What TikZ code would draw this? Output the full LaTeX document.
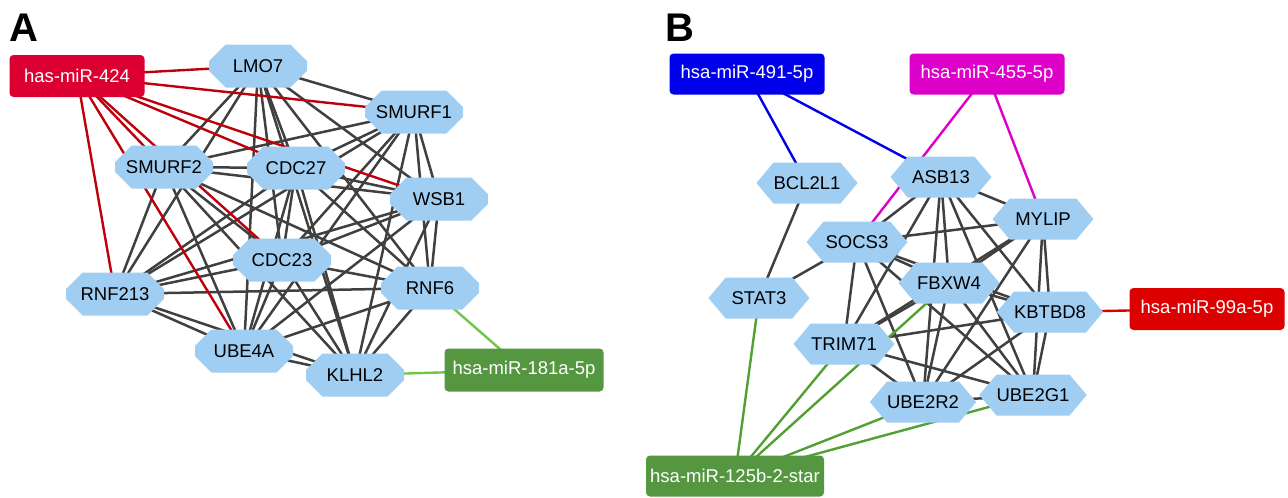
\documentclass[tikz,border=0pt]{standalone}
\usepackage{fontspec}
\setmainfont{Liberation Sans}
\usetikzlibrary{shapes.misc,shapes.symbols,backgrounds}
\definecolor{nodeblue}{RGB}{160,206,243}
\definecolor{edgegray}{RGB}{64,64,64}
\definecolor{boxcrimson}{RGB}{220,0,50}
\definecolor{edgecrimson}{RGB}{190,0,10}
\definecolor{boxgreen}{RGB}{85,150,65}
\definecolor{edgelightgreen}{RGB}{110,200,70}
\definecolor{edgegreen}{RGB}{80,160,50}
\definecolor{boxblue}{RGB}{0,0,235}
\definecolor{boxmagenta}{RGB}{220,0,200}
\definecolor{boxred}{RGB}{220,0,0}
\begin{document}
\begin{tikzpicture}[x=1pt,y=-1pt,
  txt/.style={font=\fontsize{18.5}{20}\selectfont},
  oct/.style={txt, chamfered rectangle, chamfered rectangle xsep=12pt, chamfered rectangle ysep=10pt, fill=nodeblue, minimum width=98pt, minimum height=43pt, inner sep=0pt},
  hex/.style={txt, signal, signal to=east and west, signal pointer angle=100, fill=nodeblue, minimum width=101pt, minimum height=41pt, inner sep=0pt},
  mir/.style={txt, rounded corners=4pt, text=white, minimum height=42pt, inner sep=0pt},
  panel/.style={font=\fontsize{40}{40}\selectfont\bfseries},
  e/.style={line width=2.5pt, draw=edgegray},
  ce/.style={line width=2.4pt}
]
\useasboundingbox (0,0) rectangle (1288,498);
% ---------- Panel A ----------
\node[panel] (labA) at (24,28) {A};
\node[mir, fill=boxcrimson, minimum width=135pt] (m424) at (77,76) {has-miR-424};
\node[mir, fill=boxgreen, minimum width=159pt, minimum height=43pt] (m181) at (524,370) {hsa-miR-181a-5p};
\node[oct] (LMO7) at (258,66) {LMO7};
\node[oct] (SMURF1) at (414,112) {SMURF1};
\node[oct] (SMURF2) at (164,167) {SMURF2};
\node[oct] (CDC27) at (296,168) {CDC27};
\node[oct] (WSB1) at (439,199) {WSB1};
\node[oct] (CDC23) at (282,260) {CDC23};
\node[oct] (RNF213) at (115,294) {RNF213};
\node[oct] (RNF6) at (430,288) {RNF6};
\node[oct] (UBE4A) at (244,351) {UBE4A};
\node[oct] (KLHL2) at (355,375) {KLHL2};
% ---------- Panel B ----------
\node[panel] (labB) at (680,28) {B};
\node[mir, fill=boxblue, minimum width=155pt, minimum height=41pt] (m491) at (747,74) {hsa-miR-491-5p};
\node[mir, fill=boxmagenta, minimum width=155pt, minimum height=41pt] (m455) at (987,74) {hsa-miR-455-5p};
\node[mir, fill=boxred, minimum width=155pt] (m99) at (1207,309) {hsa-miR-99a-5p};
\node[mir, fill=boxgreen, minimum width=178pt, minimum height=41pt] (m125) at (735,476) {hsa-miR-125b-2-star};
\node[hex] (BCL2L1) at (807,183) {BCL2L1};
\node[hex] (ASB13) at (941,177) {ASB13};
\node[hex] (MYLIP) at (1043,219) {MYLIP};
\node[hex] (SOCS3) at (857,242) {SOCS3};
\node[hex] (STAT3) at (759,298) {STAT3};
\node[hex] (FBXW4) at (949,283) {FBXW4};
\node[hex] (KBTBD8) at (1050,312) {KBTBD8};
\node[hex] (TRIM71) at (844,344) {TRIM71};
\node[hex] (UBE2R2) at (923,402) {UBE2R2};
\node[hex] (UBE2G1) at (1033,395) {UBE2G1};
% ---------- Edges ----------
\begin{pgfonlayer}{background}
  \foreach \a [count=\i] in {LMO7,SMURF1,SMURF2,CDC27,WSB1,CDC23,RNF213,RNF6,UBE4A,KLHL2}{
    \foreach \b [count=\j] in {LMO7,SMURF1,SMURF2,CDC27,WSB1,CDC23,RNF213,RNF6,UBE4A,KLHL2}{
      \ifnum\j>\i \draw[e] (\a.center) -- (\b.center); \fi
    }
  }
  \foreach \g in {LMO7,SMURF1,SMURF2,CDC27,WSB1,CDC23,RNF213,UBE4A}
    \draw[ce, edgecrimson] (m424.center) -- (\g.center);
  \foreach \g in {RNF6,KLHL2}
    \draw[ce, edgelightgreen] (m181.center) -- (\g.center);
  \foreach \a [count=\i] in {ASB13,MYLIP,SOCS3,FBXW4,KBTBD8,TRIM71,UBE2R2,UBE2G1}{
    \foreach \b [count=\j] in {ASB13,MYLIP,SOCS3,FBXW4,KBTBD8,TRIM71,UBE2R2,UBE2G1}{
      \ifnum\j>\i \draw[e] (\a.center) -- (\b.center); \fi
    }
  }
  \draw[e] (BCL2L1.center) -- (STAT3.center);
  \draw[e] (STAT3.center) -- (SOCS3.center);
  \foreach \g in {BCL2L1,ASB13}
    \draw[ce, boxblue] (m491.center) -- (\g.center);
  \foreach \g in {SOCS3,MYLIP}
    \draw[ce, boxmagenta] (m455.center) -- (\g.center);
  \draw[ce, boxred] (m99.center) -- (KBTBD8.center);
  \foreach \g in {STAT3,TRIM71,FBXW4,UBE2R2,UBE2G1}
    \draw[ce, edgegreen] (m125.center) -- (\g.center);
\end{pgfonlayer}
\end{tikzpicture}
\end{document}
